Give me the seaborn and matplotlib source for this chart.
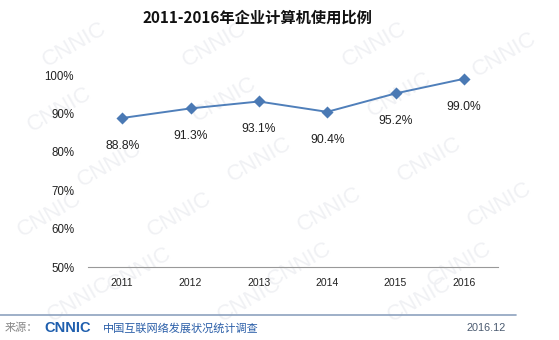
import matplotlib
matplotlib.use("Agg")
import matplotlib.pyplot as plt
import seaborn as sns
import pandas as pd
from matplotlib.lines import Line2D

years = ["2011", "2012", "2013", "2014", "2015", "2016"]
values = [88.8, 91.3, 93.1, 90.4, 95.2, 99.0]
value_labels = ["88.8%", "91.3%", "93.1%", "90.4%", "95.2%", "99.0%"]
y_ticks = [50, 60, 70, 80, 90, 100]
y_tick_labels = ["50%", "60%", "70%", "80%", "90%", "100%"]
title = "2011-2016年企业计算机使用比例"
source_prefix = "来源："
source_logo = "CNNIC"
source_name = "中国互联网络发展状况统计调查"
source_date = "2016.12"

sns.set_theme(style="white")
plt.rcParams["font.family"] = ["Liberation Sans", "Noto Sans CJK SC", "DejaVu Sans"]
cjk = ["Noto Sans CJK SC", "DejaVu Sans"]

W, H = 559, 340
fig = plt.figure(figsize=(W / 100, H / 100), dpi=100)
fig.patch.set_facecolor("white")

# faint watermarks (background)
wm_pos = [(75, 45), (215, 45), (375, 45), (505, 55),
          (60, 110), (225, 100), (400, 95),
          (110, 165), (260, 160), (430, 160),
          (50, 215), (180, 215), (330, 210), (500, 205),
          (140, 270), (300, 265), (460, 265),
          (80, 300), (250, 300), (420, 300)]
for (px, py) in wm_pos:
    fig.text(px / W, 1 - py / H, "CNNIC", fontsize=16,
             color="#f0f1f4", rotation=30, ha="center", va="center",
             zorder=-5, family="Liberation Sans")

ax = fig.add_axes([88 / W, 1 - 267 / H, (498 - 88) / W, (267 - 75) / H])
ax.set_zorder(5)
ax.patch.set_alpha(0)

df = pd.DataFrame({"year": years, "value": values})
sns.pointplot(data=df, x="year", y="value", ax=ax, color="#4f7fba",
              markers="D", markersize=5, linewidth=1.4, errorbar=None)
for c in ax.collections:
    c.set_clip_on(False)
for l in ax.lines:
    l.set_clip_on(False)
    l.set_markerfacecolor("#4a79b4")
    l.set_markeredgecolor("#4a79b4")

for i, (v, lab) in enumerate(zip(values, value_labels)):
    ax.annotate(lab, (i, v), xytext=(0, -20), textcoords="offset points",
                ha="center", va="center", fontsize=8.7, color="#222222")

ax.set_xlim(-0.5, len(years) - 0.5)
ax.set_ylim(50, 100)
ax.set_yticks(y_ticks)
ax.set_yticklabels(y_tick_labels, fontsize=8.3, color="#222222")
ax.set_xticks(range(len(years)))
ax.set_xticklabels(years, fontsize=7.5, color="#222222")
ax.set_xticks([i - 0.5 for i in range(len(years) + 1)], minor=True)
ax.tick_params(axis="x", which="major", length=0, pad=8)
ax.tick_params(axis="x", which="minor", length=4, direction="in",
               color="#999999", width=0.8)
ax.tick_params(axis="y", length=0, pad=10)
ax.set_xlabel("")
ax.set_ylabel("")
for s in ["top", "right", "left"]:
    ax.spines[s].set_visible(False)
ax.spines["bottom"].set_color("#999999")
ax.spines["bottom"].set_linewidth(0.8)
ax.grid(False)

fig.text(257 / W, 1 - 18 / H, title, fontsize=11, fontweight="bold",
         ha="center", va="center", color="#111111", family=cjk, zorder=6)

# footer
fig.add_artist(Line2D([0, 516 / W], [1 - 315 / H, 1 - 315 / H],
                      color="#8da2bf", linewidth=1.2, transform=fig.transFigure,
                      zorder=6))
fy = 1 - 328 / H
fig.text(5 / W, fy, source_prefix, fontsize=8, color="#888888",
         ha="left", va="center", family=cjk, zorder=6)
fig.text(44 / W, fy, source_logo, fontsize=10.5, fontweight="bold",
         color="#1f5fae", ha="left", va="center", family="Liberation Sans",
         zorder=6)
fig.text(103 / W, fy, source_name, fontsize=8, color="#2a5ea8",
         ha="left", va="center", family=cjk, zorder=6)
fig.text(506 / W, fy, source_date, fontsize=7.8, color="#4a5a70",
         ha="right", va="center", family="Liberation Sans", zorder=6)

fig.savefig("out.png", dpi=100, facecolor="white")
